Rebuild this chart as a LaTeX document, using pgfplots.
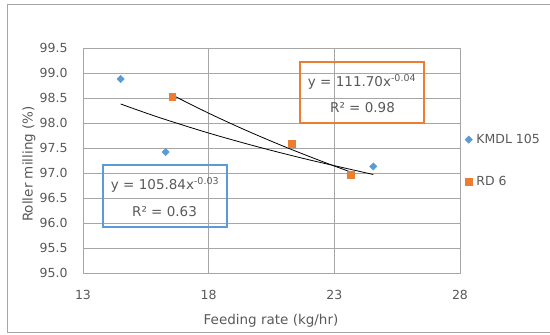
\documentclass[border=0pt]{standalone}
\usepackage{pgfplots}
\pgfplotsset{compat=1.18}
\usepackage{fontspec}
\setmainfont{DejaVu Sans}
\definecolor{kblue}{HTML}{5B9BD5}
\definecolor{rorange}{HTML}{ED7D31}
\definecolor{gridgray}{HTML}{A6A6A6}
\definecolor{txt}{HTML}{595959}
\begin{document}
\begin{tikzpicture}
\path[use as bounding box] (0pt,0pt) rectangle (550pt,335pt);
\draw[gridgray, line width=1pt] (552pt,330pt) -- (7pt,330pt) -- (7pt,2pt) -- (552pt,2pt);
\begin{axis}[at={(83pt,62pt)}, anchor=south west, width=377pt, height=225pt, scale only axis,
  xmin=13, xmax=28, ymin=95, ymax=99.5,
  xtick={13,18,23,28}, ytick={95,95.5,96,96.5,97,97.5,98,98.5,99,99.5},
  yticklabel style={xshift=-12pt, /pgf/number format/fixed, /pgf/number format/fixed zerofill, /pgf/number format/precision=1},
  /pgf/number format/assume math mode=true,
  grid=major, major grid style={gridgray, line width=0.9pt},
  axis line style={gridgray, line width=0.9pt},
  major tick length=0pt,
  tick label style={font=\fontsize{12.5}{14}\selectfont, text=txt},
  xticklabel style={yshift=-14pt},
  legend style={draw=none, fill=none, at={(1.005,0.5)}, anchor=west,
    font=\fontsize{12.5}{14}\selectfont, text=txt, row sep=27pt, nodes={inner xsep=4pt}},
  legend cell align=left,
]
\addplot[only marks, mark=square*, mark size=2.6pt, color=kblue, mark options={rotate=45}]
  coordinates {(14.5,98.88) (16.29,97.42) (24.55,97.13)};
\addlegendentry{KMDL 105}
\addplot[only marks, mark=square*, mark size=3.4pt, color=rorange]
  coordinates {(16.55,98.53) (21.30,97.59) (23.65,96.96)};
\addlegendentry{RD 6}
\addplot[black, line width=0.8pt, smooth, forget plot]
  coordinates {(14.5,98.38) (16,98.115) (18,97.799) (20,97.517) (22,97.263) (24.55,96.97)};
\addplot[black, line width=0.8pt, smooth, forget plot]
  coordinates {(16.55,98.56) (18,98.196) (19.5,97.850) (21,97.530) (22.5,97.234) (23.65,97.02)};
\end{axis}
\node[rotate=90, text=txt, font=\fontsize{13.5}{15}\selectfont] at (29pt,171pt) {Roller milling (\%)};
\node[text=txt, font=\fontsize{13.5}{15}\selectfont] at (271pt,14pt) {Feeding rate (kg/hr)};
\draw[kblue, line width=2pt] (103pt,170pt) rectangle (227pt,108.3pt);
\node[text=txt, font=\fontsize{13.5}{15}\selectfont] at (165pt,150pt) {y = 105.84x\textsuperscript{-0.03}};
\node[text=txt, font=\fontsize{13.5}{15}\selectfont] at (164.5pt,123pt) {R² = 0.63};
\draw[rorange, line width=2pt] (300pt,273.3pt) rectangle (424pt,212.3pt);
\node[text=txt, font=\fontsize{13.5}{15}\selectfont] at (362pt,253pt) {y = 111.70x\textsuperscript{-0.04}};
\node[text=txt, font=\fontsize{13.5}{15}\selectfont] at (362.5pt,227pt) {R² = 0.98};
\end{tikzpicture}
\end{document}
